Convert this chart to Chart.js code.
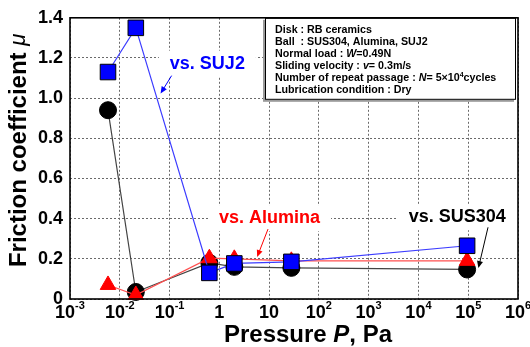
<!DOCTYPE html>
<html>
<head>
<meta charset="utf-8">
<script src="https://cdn.jsdelivr.net/npm/chart.js@4.4.1/dist/chart.umd.min.js"></script>
<style>
  html, body { margin: 0; padding: 0; background: #fff; }
</style>
</head>
<body>
<canvas id="chart" width="530" height="347"></canvas>
<script>
// test pressures (Pa)
const pressure = [0.0058, 0.021, 0.63, 2, 28, 95000];
// friction coefficient per ball material
const muSUJ2 = [1.13, 1.35, 0.13, 0.177, 0.185, 0.265];
const muAlumina = [0.07, 0.02, 0.203, 0.2, 0.19, 0.19];
const muSUS304 = [0.94, 0.035, 0.18, 0.16, 0.155, 0.147];

// axis ticks
const xTickExponents = [-3, -2, -1, 0, 1, 2, 3, 4, 5, 6];
const yTicks = [0, 0.2, 0.4, 0.6, 0.8, 1.0, 1.2, 1.4];

const FONT = "'Liberation Sans', Arial, sans-serif";

// test conditions box, each line is a list of [text, style]
const conditionLines = [
  [["Disk : RB ceramics", "b"]],
  [["Ball  : SUS304, Alumina, SUJ2", "b"]],
  [["Normal load : ", "b"], ["W", "i"], ["=0.49N", "b"]],
  [["Sliding velocity : ", "b"], ["v", "i"], ["= 0.3m/s", "b"]],
  [["Number of repeat passage : ", "b"], ["N", "i"], ["= 5\u00d710", "b"], ["4", "s"], ["cycles", "b"]],
  [["Lubrication condition : Dry", "b"]]
];

// labels with arrows, anchored in data units
const callouts = [
  { text: "vs. SUJ2", color: "#0000ff", at: [0.575, 1.172], from: [0.11, 1.112], to: [0.066, 1.023] },
  { text: "vs. Alumina", color: "#ff0000", at: [10.2, 0.402], from: [9.5, 0.348], to: [5.75, 0.209] },
  { text: "vs. SUS304", color: "#000000", at: [60000, 0.407], from: [250000, 0.357], to: [160000, 0.154] }
];

function points(ys) {
  return pressure.map((p, i) => ({ x: p, y: ys[i] }));
}

function drawRich(ctx, parts, x, y, align) {
  const widths = parts.map(p => { ctx.font = p.f; return ctx.measureText(p.t).width; });
  const total = widths.reduce((a, b) => a + b, 0);
  let cx = align === "center" ? x - total / 2 : x;
  parts.forEach((p, i) => {
    ctx.font = p.f;
    ctx.fillText(p.t, cx, y + (p.dy || 0));
    cx += widths[i];
  });
}

function arrow(ctx, x1, y1, x2, y2, color) {
  const ang = Math.atan2(y2 - y1, x2 - x1);
  const len = 7, half = 3;
  ctx.save();
  ctx.strokeStyle = color;
  ctx.fillStyle = color;
  ctx.lineWidth = 1;
  ctx.beginPath();
  ctx.moveTo(x1, y1);
  ctx.lineTo(x2 - Math.cos(ang) * len * 0.6, y2 - Math.sin(ang) * len * 0.6);
  ctx.stroke();
  ctx.beginPath();
  ctx.moveTo(x2, y2);
  ctx.lineTo(x2 - Math.cos(ang) * len + Math.sin(ang) * half, y2 - Math.sin(ang) * len - Math.cos(ang) * half);
  ctx.lineTo(x2 - Math.cos(ang) * len - Math.sin(ang) * half, y2 - Math.sin(ang) * len + Math.cos(ang) * half);
  ctx.closePath();
  ctx.fill();
  ctx.restore();
}

const decor = {
  id: "decor",
  beforeDatasetsDraw(chart) {
    const { ctx, chartArea: a, scales: { x, y } } = chart;
    ctx.save();
    // white patches behind the callout labels
    ctx.font = "bold 18px " + FONT;
    callouts.forEach(c => {
      const cx = x.getPixelForValue(c.at[0]);
      const cy = y.getPixelForValue(c.at[1]);
      const w = ctx.measureText(c.text).width;
      ctx.fillStyle = "#fff";
      ctx.fillRect(cx - w / 2 - 11, cy - 13, w + 22, 26);
    });
    // condition box
    const bx = a.right - 253, by = a.top, bw = 251, bh = 82;
    ctx.fillStyle = "#9a9a9a";
    ctx.fillRect(bx - 2, by + 2, bw, bh);
    ctx.fillStyle = "#fff";
    ctx.fillRect(bx, by, bw, bh);
    ctx.strokeStyle = "#000";
    ctx.lineWidth = 1;
    ctx.strokeRect(bx + 0.5, by + 0.5, bw - 1, bh - 1);
    ctx.fillStyle = "#000";
    ctx.textBaseline = "middle";
    const fs = 10.7;
    conditionLines.forEach((line, i) => {
      const parts = line.map(([t, s]) => {
        if (s === "i") return { t, f: "italic bold " + fs + "px " + FONT };
        if (s === "s") return { t, f: "bold 7px " + FONT, dy: -3 };
        return { t, f: "bold " + fs + "px " + FONT };
      });
      drawRich(ctx, parts, bx + 10, by + 12.5 + i * 12, "left");
    });
    ctx.restore();
  },
  afterDatasetsDraw(chart) {
    const { ctx, chartArea: a, scales: { x, y } } = chart;
    ctx.save();
    // callout texts and arrows
    ctx.textBaseline = "middle";
    ctx.textAlign = "center";
    ctx.font = "bold 18px " + FONT;
    callouts.forEach(c => {
      ctx.fillStyle = c.color;
      ctx.fillText(c.text, x.getPixelForValue(c.at[0]), y.getPixelForValue(c.at[1]));
      arrow(ctx, x.getPixelForValue(c.from[0]), y.getPixelForValue(c.from[1]),
        x.getPixelForValue(c.to[0]), y.getPixelForValue(c.to[1]), c.color);
    });
    ctx.textAlign = "left";

    // plot frame
    ctx.strokeStyle = "#000";
    ctx.lineWidth = 1.6;
    ctx.strokeRect(a.left, a.top, a.right - a.left, a.bottom - a.top);

    // x tick labels with superscript exponents
    ctx.fillStyle = "#000";
    xTickExponents.forEach(e => {
      const px = x.getPixelForValue(Math.pow(10, e));
      const py = a.bottom + 14;
      let parts;
      if (e === 0) parts = [{ t: "1", f: "bold 18px " + FONT }];
      else if (e === 1) parts = [{ t: "10", f: "bold 18px " + FONT }];
      else parts = [{ t: "10", f: "bold 18px " + FONT }, { t: String(e), f: "bold 11px " + FONT, dy: -7 }];
      drawRich(ctx, parts, px, py, "center");
    });

    // axis titles
    drawRich(ctx, [
      { t: "Pressure ", f: "bold 24px " + FONT },
      { t: "P", f: "italic bold 24px " + FONT },
      { t: ", Pa", f: "bold 24px " + FONT }
    ], (a.left + a.right) / 2 + 14, 335, "center");

    ctx.translate(19, (a.top + a.bottom) / 2 - 8);
    ctx.rotate(-Math.PI / 2);
    drawRich(ctx, [
      { t: "Friction coefficient ", f: "bold 24px " + FONT },
      { t: "\u03bc", f: "italic 22px " + FONT }
    ], 0, 0, "center");
    ctx.restore();
  }
};

const gridStyle = { color: "#6a6a6a", lineWidth: 1, drawTicks: false };

new Chart(document.getElementById("chart"), {
  type: "scatter",
  data: {
    datasets: [
      {
        label: "vs. SUJ2",
        data: points(muSUJ2),
        showLine: true,
        borderColor: "#3c3cff",
        borderWidth: 1.2,
        pointStyle: "rect",
        pointRadius: 11,
        pointBackgroundColor: "#0000ff",
        pointBorderColor: "#000",
        pointBorderWidth: 1,
        clip: 12
      },
      {
        label: "vs. Alumina",
        data: points(muAlumina),
        showLine: true,
        borderColor: "#ff5050",
        borderWidth: 1.2,
        pointStyle: "triangle",
        pointRadius: 9,
        pointBackgroundColor: "#ff0000",
        pointBorderColor: "#ff0000",
        pointBorderWidth: 1,
        clip: 12
      },
      {
        label: "vs. SUS304",
        data: points(muSUS304),
        showLine: true,
        borderColor: "#444",
        borderWidth: 1.2,
        pointStyle: "circle",
        pointRadius: 8.5,
        pointBackgroundColor: "#000",
        pointBorderColor: "#000",
        pointBorderWidth: 1,
        clip: 12
      }
    ]
  },
  options: {
    responsive: false,
    animation: false,
    events: [],
    layout: { padding: { top: 17, right: 10, left: 0, bottom: 0 } },
    plugins: { legend: { display: false }, tooltip: { enabled: false } },
    scales: {
      x: {
        type: "logarithmic",
        min: 1e-3,
        max: 1e6,
        afterBuildTicks: s => { s.ticks = xTickExponents.map(e => ({ value: Math.pow(10, e) })); },
        afterFit: s => { s.height = 48; },
        ticks: { display: false },
        grid: gridStyle,
        border: { display: false, dash: [2, 2] }
      },
      y: {
        min: 0,
        max: 1.4,
        afterBuildTicks: s => { s.ticks = yTicks.map(v => ({ value: v })); },
        afterFit: s => { s.width = 70; },
        ticks: {
          color: "#000",
          padding: 7,
          font: { family: FONT, size: 18, weight: "bold" },
          callback: v => (v === 0 ? "0" : v.toFixed(1))
        },
        grid: gridStyle,
        border: { display: false, dash: [2, 2] }
      }
    }
  },
  plugins: [decor]
});
</script>
</body>
</html>
